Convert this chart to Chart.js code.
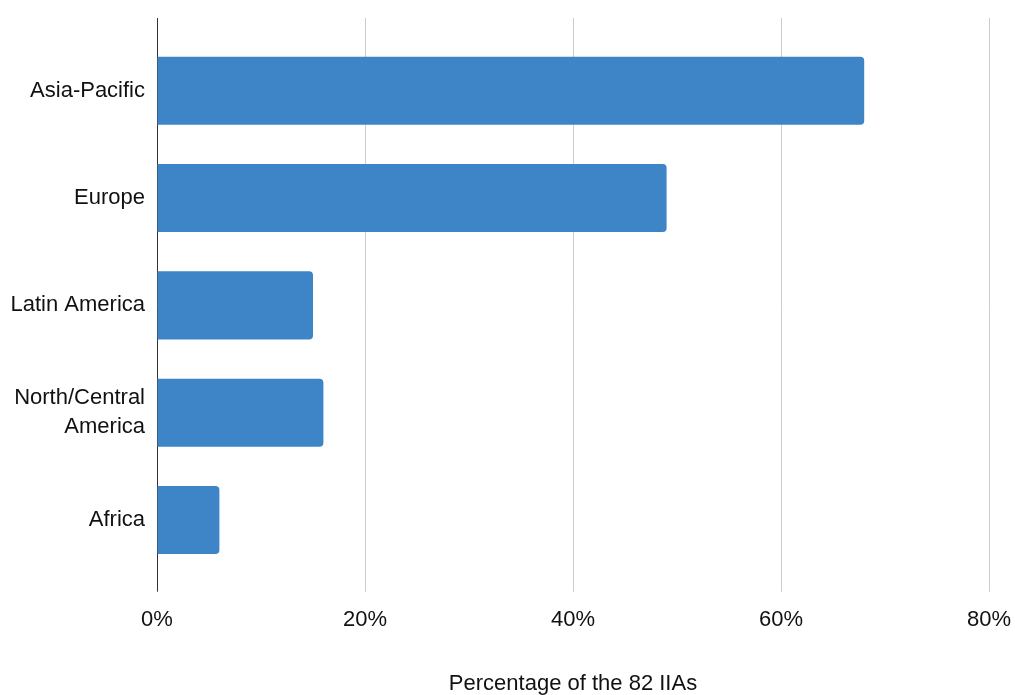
<!DOCTYPE html>
<html lang="en">
<head>
    <meta charset="UTF-8">
    <title>IIAs by region</title>
    <script src="https://cdn.jsdelivr.net/npm/chart.js"></script>
    <style>
        html, body { margin: 0; padding: 0; background: #fff; }
        #wrap { width: 1015px; height: 695px; }
    </style>
</head>
<body>
    <div id="wrap">
        <canvas id="regionChart" width="1015" height="695"></canvas>
    </div>

    <script>
        // Regions and share of the 82 IIAs (%)
        const regions = ['Asia-Pacific', 'Europe', 'Latin America', ['North/Central', 'America'], 'Africa'];
        const shares = [68, 49, 15, 16, 6];
        const xTicks = [0, 20, 40, 60, 80];

        const fontFamily = 'Arial, "Liberation Sans", Helvetica, sans-serif';
        const gridColor = c => (c.tick && c.tick.value === 0 ? '#333333' : '#cccccc');

        new Chart(document.getElementById('regionChart'), {
            type: 'bar',
            data: {
                labels: regions,
                datasets: [{
                    data: shares,
                    backgroundColor: '#3d85c6',
                    borderRadius: 4,
                    categoryPercentage: 1,
                    barPercentage: 0.634
                }]
            },
            options: {
                indexAxis: 'y',
                responsive: false,
                animation: false,
                layout: { padding: { top: 18, right: 26, bottom: 0, left: 0 } },
                plugins: {
                    legend: { display: false },
                    tooltip: { enabled: false }
                },
                scales: {
                    x: {
                        position: 'bottom',
                        min: xTicks[0],
                        max: xTicks[xTicks.length - 1],
                        afterBuildTicks: s => { s.ticks = xTicks.map(v => ({ value: v })); },
                        // let the layout padding decide the right edge, not the last label
                        afterFit: s => { s.paddingLeft = 0; s.paddingRight = 0; },
                        border: { display: false },
                        grid: { color: gridColor, tickColor: gridColor, drawTicks: true, tickLength: 18 },
                        ticks: {
                            padding: 15,
                            color: '#111',
                            font: { family: fontFamily, size: 22 },
                            callback: v => v + '%'
                        },
                        title: {
                            display: true,
                            text: 'Percentage of the 82 IIAs',
                            color: '#111',
                            font: { family: fontFamily, size: 22 },
                            padding: { top: 23, bottom: -2.5 }
                        }
                    },
                    // tick marks only, so the grid reaches above the first bar band
                    xTop: {
                        axis: 'x',
                        position: 'top',
                        min: xTicks[0],
                        max: xTicks[xTicks.length - 1],
                        afterBuildTicks: s => { s.ticks = xTicks.map(v => ({ value: v })); },
                        afterFit: s => { s.paddingLeft = 0; s.paddingRight = 0; },
                        border: { display: false },
                        grid: { color: gridColor, tickColor: gridColor, drawOnChartArea: false, drawTicks: true, tickLength: 19 },
                        ticks: { display: false }
                    },
                    y: {
                        afterFit: s => { s.width = 157; },
                        border: { display: false },
                        grid: { display: false, drawTicks: false },
                        ticks: {
                            padding: 12,
                            color: '#111',
                            font: { family: fontFamily, size: 22, lineHeight: 1.3 }
                        }
                    }
                }
            }
        });
    </script>
</body>
</html>
